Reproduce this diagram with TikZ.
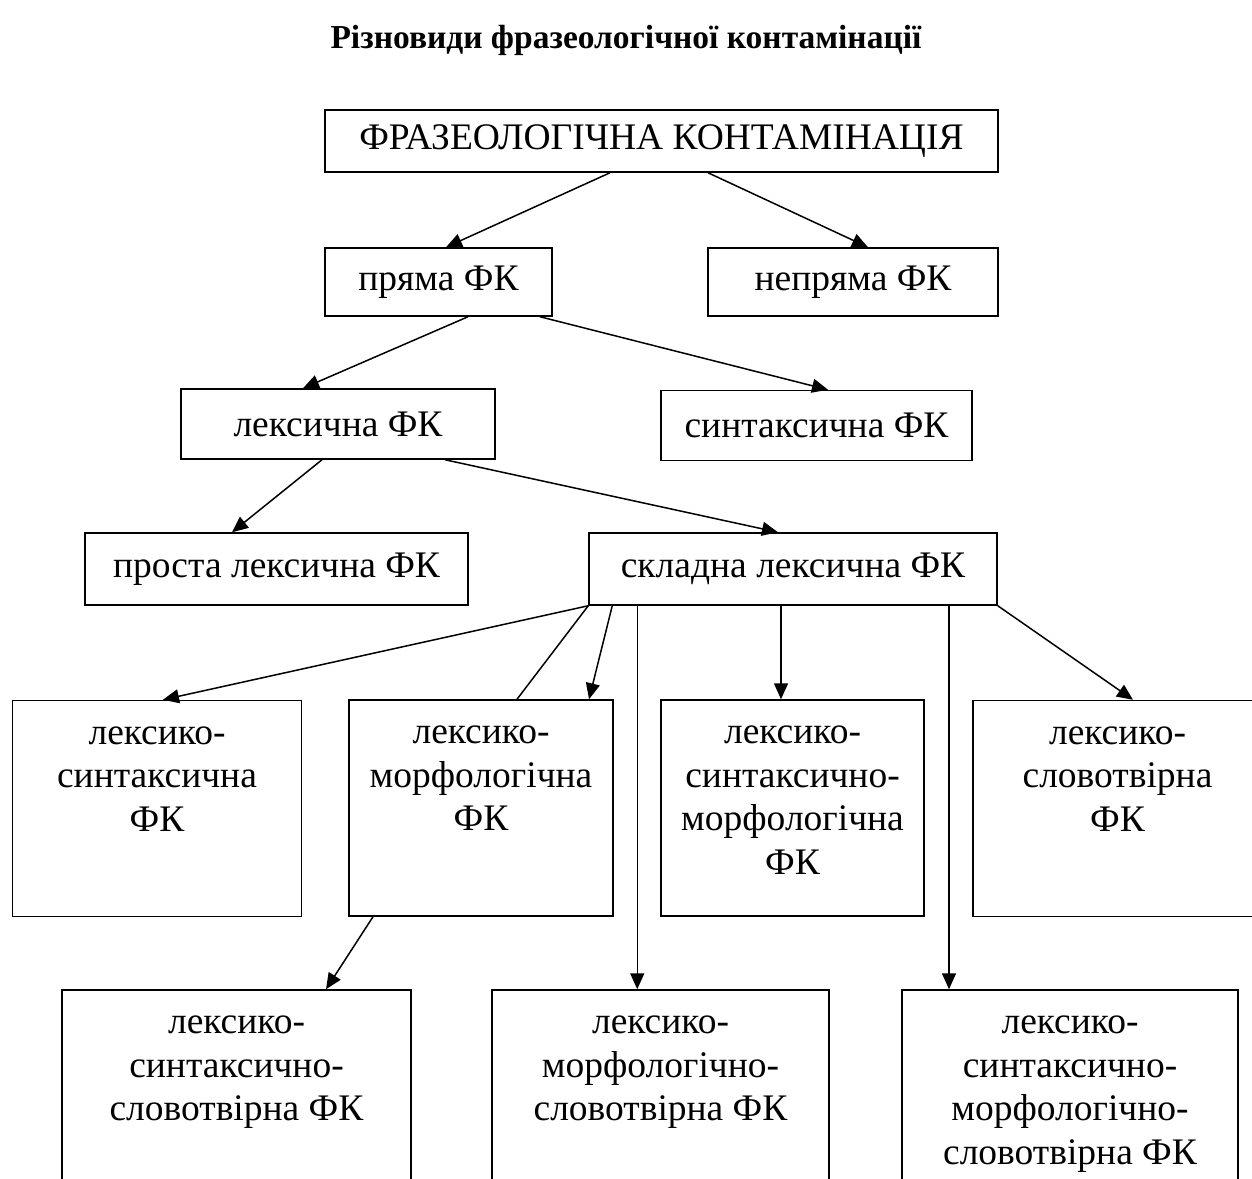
\documentclass[tikz,border=0pt]{standalone}
\usepackage{fontspec}
\setmainfont{Liberation Serif}
\usetikzlibrary{arrows.meta}
\newcommand{\boxlines}[3]{\parbox[c][#1][t]{#2}{\centering\strut #3}}
\begin{document}
\begin{tikzpicture}
	[x=1pt,y=-1pt,
	box/.style={rectangle,draw,line width=1.5pt,inner sep=0pt,align=center,font=\fontsize{37.5}{43.5}\selectfont},
	>={Triangle[length=16pt,width=14pt]},line width=1.5pt]
	\useasboundingbox (0,0) rectangle (1252,1178);
	\node[name=title,font=\fontsize{33.5}{40}\selectfont\bfseries] at (626,40) {Різновиди фразеологічної контамінації};
	\node[box,name=root,minimum width=673,minimum height=62] at (661.5,141) {ФРАЗЕОЛОГІЧНА КОНТАМІНАЦІЯ};
	\node[box,name=pr,minimum width=227,minimum height=68] at (438.5,282) {пряма ФК};
	\node[box,name=npr,minimum width=290,minimum height=68] at (853,282) {непряма ФК};
	\node[box,name=lex,minimum width=314,minimum height=70] at (338,424) {лексична ФК};
	\node[box,name=syn,minimum width=311,minimum height=70] at (816.5,425.5) {синтаксична ФК};
	\node[box,name=prl,minimum width=383,minimum height=72] at (276.5,569) {проста лексична ФК};
	\node[box,name=skl,minimum width=408,minimum height=72] at (793,569) {складна лексична ФК};
	% third level
	\node[box,name=ls,minimum width=289,minimum height=216] at (157,808.5) {\boxlines{189pt}{280pt}{лексико-\\синтаксична\\ФК}};
	\node[box,name=lm,minimum width=264,minimum height=216] at (481,808) {\boxlines{189pt}{256pt}{лексико-\\морфологічна\\ФК}};
	\node[box,name=lsm,minimum width=263,minimum height=216] at (792.5,808) {\boxlines{189pt}{256pt}{лексико-\\синтаксично-\\морфологічна\\ФК}};
	\node[box,name=lsl,minimum width=289,minimum height=216] at (1117.5,808.5) {\boxlines{189pt}{280pt}{лексико-\\словотвірна\\ФК}};
	% fourth level
	\node[box,name=lss,minimum width=349,minimum height=220] at (236.5,1100) {\boxlines{193pt}{340pt}{лексико-\\синтаксично-\\словотвірна ФК}};
	\node[box,name=lms,minimum width=337,minimum height=220] at (660.5,1100) {\boxlines{193pt}{328pt}{лексико-\\морфологічно-\\словотвірна ФК}};
	\node[box,name=lsms,minimum width=336,minimum height=220] at (1070,1100) {\boxlines{193pt}{328pt}{лексико-\\синтаксично-\\морфологічно-\\словотвірна ФК}};
	\draw[->]([xshift=-51.5pt]root.south)--([xshift=7.5pt]pr.north);
	\draw[->]([xshift=46.5pt]root.south)--([xshift=15pt]npr.north);
	\draw[->]([xshift=29.5pt]pr.south)--([xshift=-35pt]lex.north);
	\draw[->]([xshift=101.5pt]pr.south)--([xshift=11.5pt]syn.north);
	\draw[->]([xshift=-16pt]lex.south)--([xshift=-44.5pt]prl.north);
	\draw[->]([xshift=107pt]lex.south)--([xshift=-15pt]skl.north);
	\draw[->](skl.south west)--([xshift=6pt]ls.north);
	\draw[-](skl.south west)--([xshift=36pt]lm.north);
	\draw[->]([xshift=24pt]skl.south west)--([xshift=108pt]lm.north);
	\draw[->]([xshift=49pt]skl.south west)--([xshift=49pt]skl.south west |- lms.north);
	\draw[->]([xshift=-12pt]skl.south)--([xshift=-12pt]skl.south |- lsm.north);
	\draw[->]([xshift=156pt]skl.south)--([xshift=156pt]skl.south |- lsms.north);
	\draw[->](skl.south east)--([xshift=15.5pt]lsl.north);
	\draw[->]([xshift=-108pt]lm.south)--([xshift=89.5pt]lss.north);
\end{tikzpicture}
\end{document}
